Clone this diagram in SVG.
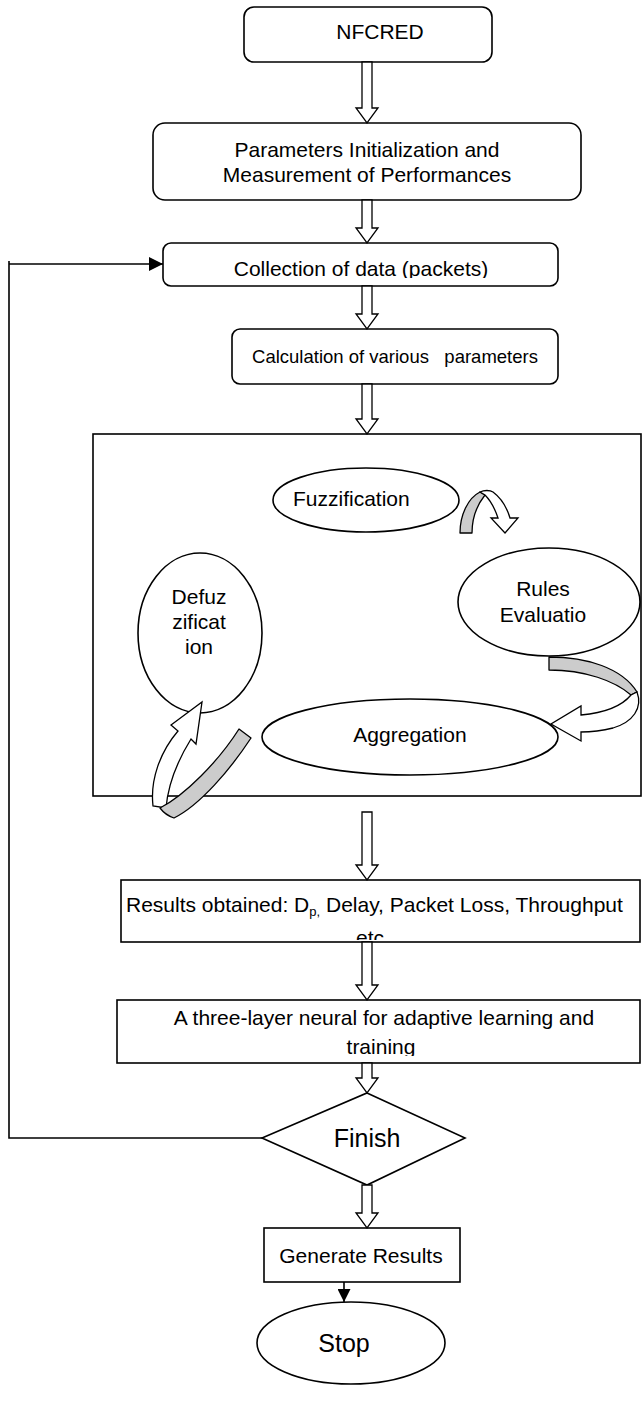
<svg xmlns="http://www.w3.org/2000/svg" width="643" height="1411" viewBox="0 0 643 1411">
<defs>
<style>
.box{fill:#fff;stroke:#000;stroke-width:1.6}
.t{font-family:"Liberation Sans",Arial,sans-serif;font-size:21px;fill:#000}
.c{text-anchor:middle}
.ha{fill:#fff;stroke:#000;stroke-width:1.3;stroke-linejoin:miter}
.g{fill:#cccccc;stroke:#000;stroke-width:1.3;stroke-linejoin:round}
.ln{fill:none;stroke:#000;stroke-width:1.6}
</style>
<marker id="tri" viewBox="0 0 10 10" refX="10" refY="5" markerWidth="15" markerHeight="14" markerUnits="userSpaceOnUse" orient="auto">
<path d="M0,0 L10,5 L0,10 Z" fill="#000"/>
</marker>
<marker id="tri2" viewBox="0 0 10 10" refX="10" refY="5" markerWidth="13" markerHeight="13" markerUnits="userSpaceOnUse" orient="auto">
<path d="M0,0 L10,5 L0,10 Z" fill="#000"/>
</marker>
<clipPath id="clipColl"><rect x="163" y="243" width="395" height="35"/></clipPath>
<clipPath id="clipRes"><rect x="121" y="880" width="519" height="60"/></clipPath>
<clipPath id="clipNeu"><rect x="117" y="1000" width="523" height="56"/></clipPath>
</defs>

<g id="node-nfcred">
<rect class="box" x="244" y="7" width="248" height="55" rx="10"/>
<text class="t c" x="380" y="39">NFCRED</text>
</g>

<g id="node-params">
<rect class="box" x="153" y="123" width="428" height="77" rx="12"/>
<text class="t c" x="367" y="157">Parameters Initialization and</text>
<text class="t c" x="367" y="182">Measurement of Performances</text>
</g>

<g id="node-collection">
<rect class="box" x="163" y="243" width="395" height="43" rx="8"/>
<text class="t c" x="361" y="276" clip-path="url(#clipColl)">Collection of data (packets)</text>
</g>

<g id="node-calc">
<rect class="box" x="232" y="329" width="326" height="55" rx="8"/>
<text class="t c" x="395" y="363" style="font-size:18.5px;white-space:pre">Calculation of various   parameters</text>
</g>

<g id="node-fuzzy-box">
<rect class="box" x="93" y="434" width="548" height="362"/>
</g>

<g id="node-fuzzification">
<ellipse class="box" cx="366" cy="500" rx="93" ry="32"/>
<text class="t" x="293" y="506">Fuzzification</text>
</g>

<g id="node-rules">
<ellipse class="box" cx="549" cy="602" rx="91" ry="54"/>
<text class="t c" x="543" y="596">Rules</text>
<text class="t c" x="543" y="622">Evaluatio</text>
</g>

<g id="node-defuzz">
<ellipse class="box" cx="200" cy="633" rx="62" ry="80"/>
<text class="t c" x="199" y="604">Defuz</text>
<text class="t c" x="199" y="629">zificat</text>
<text class="t c" x="199" y="654">ion</text>
</g>

<g id="node-aggregation">
<ellipse class="box" cx="410" cy="737" rx="148" ry="38"/>
<text class="t c" x="410" y="742">Aggregation</text>
</g>

<g id="node-results">
<rect class="box" x="121" y="880" width="519" height="62"/>
<g clip-path="url(#clipRes)">
<text class="t" x="126" y="912">Results obtained: D<tspan font-size="13" dy="4">p,</tspan><tspan dy="-4"> Delay, Packet Loss, Throughput</tspan></text>
<text class="t c" x="370" y="945">etc</text>
</g>
</g>

<g id="node-neural">
<rect class="box" x="117" y="1000" width="523" height="63"/>
<g clip-path="url(#clipNeu)">
<text class="t c" x="384" y="1025">A three-layer neural for adaptive learning and</text>
<text class="t c" x="381" y="1054">training</text>
</g>
</g>

<g id="node-finish">
<polygon class="box" points="367,1093 465,1138 367,1185 262,1138"/>
<text class="t c" x="367" y="1147" style="font-size:25px">Finish</text>
</g>

<g id="node-generate">
<rect class="box" x="264" y="1228" width="196" height="54"/>
<text class="t c" x="361" y="1263">Generate Results</text>
</g>

<g id="node-stop">
<ellipse class="box" cx="351" cy="1343" rx="94" ry="41"/>
<text class="t c" x="344" y="1352" style="font-size:25px">Stop</text>
</g>

<g id="connectors">
<path class="ha" d="M362,62 L362,108 L356,108 L367,123 L378,108 L372,108 L372,62 Z"/>
<path class="ha" d="M362,200 L362,228 L356,228 L367,243 L378,228 L372,228 L372,200 Z"/>
<path class="ha" d="M362,286 L362,314 L356,314 L367,329 L378,314 L372,314 L372,286 Z"/>
<path class="ha" d="M362,384 L362,419 L356,419 L367,434 L378,419 L372,419 L372,384 Z"/>
<path class="ha" d="M362,812 L362,865 L356,865 L367,880 L378,865 L372,865 L372,812 Z"/>
<path class="ha" d="M362,942 L362,985 L356,985 L367,1000 L378,985 L372,985 L372,942 Z"/>
<path class="ha" d="M362,1063 L362,1078 L356,1078 L367,1093 L378,1078 L372,1078 L372,1063 Z"/>
<path class="ha" d="M362,1185 L362,1213 L356,1213 L367,1228 L378,1213 L372,1213 L372,1185 Z"/>

<!-- Fuzzification -> Rules curved arrow -->
<path class="g" d="M460,533 C460,515 468,498 480,492 L485,495 C477,505 472,518 472,533 Z"/>
<path class="ha" d="M480,492 C484,490 490,490 493,492 C501,498 507,508 510,518 L518,518 L505,533 L491,518 L498,518 C495,509 491,501 485,495 Z"/>

<!-- Rules -> Aggregation curved arrow -->
<path class="g" d="M549,657 C587,657 622,668 637,692 L631,695 C615,681 585,670 549,670 Z"/>
<path class="ha" d="M581,715 C603,713 621,707 631,695 L637,692 C643,708 633,722 613,728 C601,731 591,732 581,732 L581,741 L551,724 L581,706 Z"/>

<!-- Aggregation -> Defuzzification curved arrow -->
<path class="ha" d="M153,806 C150,780 160,752 178,731 L171,725 L202,702 L196,744 L191,739 C178,760 168,785 166,808 Z"/>
<path class="g" d="M239,729 L251,738 C230,770 200,805 174,818 C168,816 163,812 160,808 C185,795 218,762 239,729 Z"/>

<!-- loop back -->
<polyline class="ln" points="262,1138 9,1138 9,261"/>
<line class="ln" x1="9" y1="264" x2="163" y2="264" marker-end="url(#tri)"/>

<!-- Generate -> Stop -->
<line class="ln" x1="344" y1="1282" x2="344" y2="1302" marker-end="url(#tri2)"/>
</g>
</svg>
